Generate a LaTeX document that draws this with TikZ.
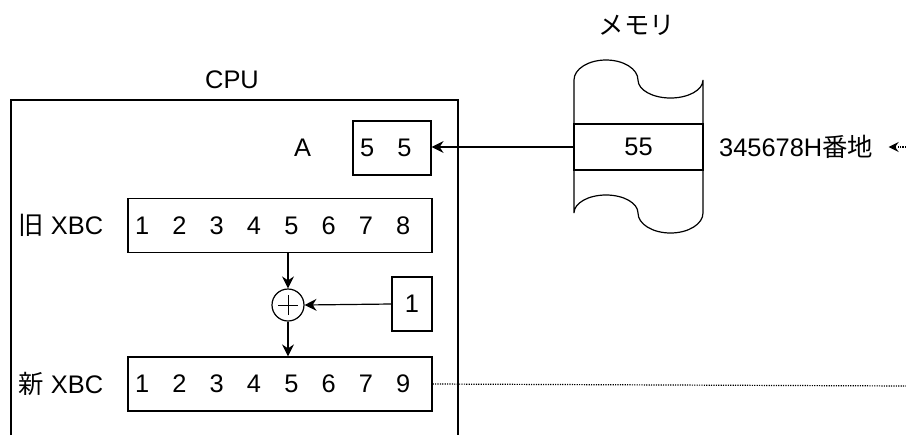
\documentclass[tikz,border=0pt]{standalone}
\usepackage{fontspec}
\setmainfont{Liberation Sans}
\newfontfamily\jpfont{Noto Sans CJK JP}
\usetikzlibrary{positioning,arrows.meta}
\newcommand{\dgap}{\hspace{11.6pt}}

\begin{document}
\begin{tikzpicture}[
  x=0.5pt, y=-0.5pt,
  font=\fontsize{12.7}{15}\selectfont,
  line width=0.6pt,
  reg/.style={draw, inner xsep=3.5pt, inner ysep=0pt, minimum height=27pt, text width=#1, align=left},
  cell/.style={draw, inner sep=0pt, minimum width=20pt, minimum height=27pt},
  addop/.style={draw, circle, inner sep=0pt, minimum size=16pt},
  arr/.style={-{Stealth[length=6pt, width=6pt, inset=2pt]}},
  dotline/.style={dash pattern=on 0.6pt off 0.6pt, line width=0.6pt},
  darr/.style={dotline, -{Stealth[length=5pt, width=5pt, inset=1.8pt]}},
  ]
  \useasboundingbox (0,0) rectangle (906,435);
  % CPU frame (runs off the bottom)
  \draw (11,435) |- (458,100) -- (458,435);
  \node (cpulbl) at (232,80) {CPU};
  % registers
  \node[reg=32pt] (regA) at (392,148) {5\dgap 5};
  \node[left=17pt of regA] (albl) {A};
  \node[reg=145pt] (oldxbc) at (280,225.5) {1\dgap 2\dgap 3\dgap 4\dgap 5\dgap 6\dgap 7\dgap 8};
  \node[left=8.5pt of oldxbc] (oldlbl) {{\jpfont 旧} XBC};
  \node[reg=145pt] (newxbc) at (280,384) {1\dgap 2\dgap 3\dgap 4\dgap 5\dgap 6\dgap 7\dgap 9};
  \node[left=8.5pt of newxbc] (newlbl) {{\jpfont 新} XBC};
  % increment
  \node[addop] (add) at (288,305) {};
  \draw[line width=0.5pt] (add.center) ++(-10,0) -- ++(20,0) (add.center) ++(0,-10) -- ++(0,20);
  \node[cell] (one) at (412,304) {1};
  \draw[arr] (add.north |- oldxbc.south) -- (add.north);
  \draw[arr] (one.west) -- (add.east);
  \draw[arr] (add.south) -- (add.south |- newxbc.north);
  % memory
  \node (memlbl) at (637,25) {\jpfont メモリ};
  \draw (574,80) arc[start angle=180, end angle=0, x radius=16pt, y radius=10pt]
    arc[start angle=180, end angle=360, x radius=16.25pt, y radius=9pt] -- (703,213)
    arc[start angle=0, end angle=-180, x radius=16.25pt, y radius=10pt]
    arc[start angle=0, end angle=180, x radius=16pt, y radius=9pt] -- cycle;
  \node[draw, inner sep=0pt, minimum width=64.5pt, minimum height=23pt] (memrow) at (638.5,147) {55};
  \node[right=0pt of memrow, inner xsep=7.5pt] (addr) {345678H{\jpfont 番地}};
  \draw[arr] (memrow.west) -- (memrow.west -| regA.east);
  % links leaving the frame
  \coordinate (offA) at (906,147);
  \coordinate (offN) at (906,386);
  \draw[darr] (offA) -- (addr.east);
  \draw[dotline] (newxbc.east) -- (offN);
\end{tikzpicture}
\end{document}
